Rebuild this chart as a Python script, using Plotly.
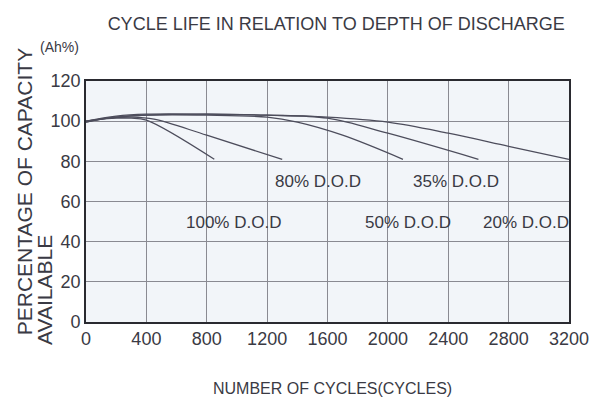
import plotly.graph_objects as go

# cycle-life curves: (cycles, % capacity)
dod100_x = [0, 100, 200, 300, 400, 850]
dod100_y = [99.5, 101, 101.5, 101.5, 100.5, 81]
dod80_x = [0, 150, 300, 450, 800, 1300]
dod80_y = [99.5, 101.5, 102, 101, 93, 81]
dod50_x = [0, 200, 400, 800, 1200, 1400, 1700, 2100]
dod50_y = [100, 102, 103, 103, 102, 99.5, 93, 81]
dod35_x = [0, 200, 400, 800, 1200, 1600, 2000, 2600]
dod35_y = [100, 102.5, 103.5, 103.5, 103, 101.5, 94, 81]
dod20_x = [0, 200, 400, 800, 1200, 1600, 2000, 2400, 2800, 3200]
dod20_y = [100, 102, 103, 103.5, 103, 102, 99.5, 94, 87.5, 81]

labels = ['100% D.O.D', '80% D.O.D', '50% D.O.D', '35% D.O.D', '20% D.O.D']
label_x = [975, 1540, 2135, 2450, 2915]
label_y = [49.5, 70, 49.5, 70, 49.5]

x_ticks = [0, 400, 800, 1200, 1600, 2000, 2400, 2800, 3200]
y_ticks = [0, 20, 40, 60, 80, 100, 120]

ink = '#3a3a44'


def f(size):
    return dict(family='Liberation Sans, Arial, sans-serif', size=size, color=ink)


fig = go.Figure()
for xs, ys in [(dod100_x, dod100_y), (dod80_x, dod80_y), (dod50_x, dod50_y),
               (dod35_x, dod35_y), (dod20_x, dod20_y)]:
    fig.add_trace(go.Scatter(x=xs, y=ys, mode='lines', line_shape='spline',
                             line=dict(color='#4d4d5c', width=1.3),
                             showlegend=False, hoverinfo='skip'))

for t, lx, ly in zip(labels, label_x, label_y):
    fig.add_annotation(x=lx, y=ly, text=t, showarrow=False, font=f(17))

# axis titles as annotations: the y title is two rotated lines, bottom-aligned
ann = dict(xref='paper', yref='paper', showarrow=False, xanchor='center', yanchor='middle')
fig.add_annotation(x=-0.128, y=0.539, text='PERCENTAGE OF CAPACITY', textangle=-90, font=f(21), **ann)
fig.add_annotation(x=-0.085, y=0.133, text='AVAILABLE', textangle=-90, font=f(21), **ann)
fig.add_annotation(x=-0.054, y=1.141, text='(Ah%)', font=f(14), **ann)
fig.add_annotation(x=0.511, y=-0.275, text='NUMBER OF CYCLES(CYCLES)', font=f(16), **ann)

axis = dict(showgrid=True, gridcolor='#8a8a92', gridwidth=1, zeroline=False,
            showline=True, mirror=True, linecolor='#2a2a30', linewidth=1.6,
            ticks='', automargin=False, tickfont=f(18))

fig.update_layout(
    width=595, height=403,
    margin=dict(l=86, r=26, t=81, b=81),
    paper_bgcolor='#ffffff', plot_bgcolor='#f2f5f9',
    title=dict(text='CYCLE LIFE IN RELATION TO DEPTH OF DISCHARGE', x=0.565, xanchor='center',
               y=0.942, yanchor='middle', font=f(18)),
    xaxis=dict(range=[0, 3200], tickvals=x_ticks, **axis),
    yaxis=dict(range=[0, 120], tickvals=y_ticks, **axis),
)

fig.write_html('out.html', config={'displayModeBar': False},
               post_script="document.body.style.margin='0';")
